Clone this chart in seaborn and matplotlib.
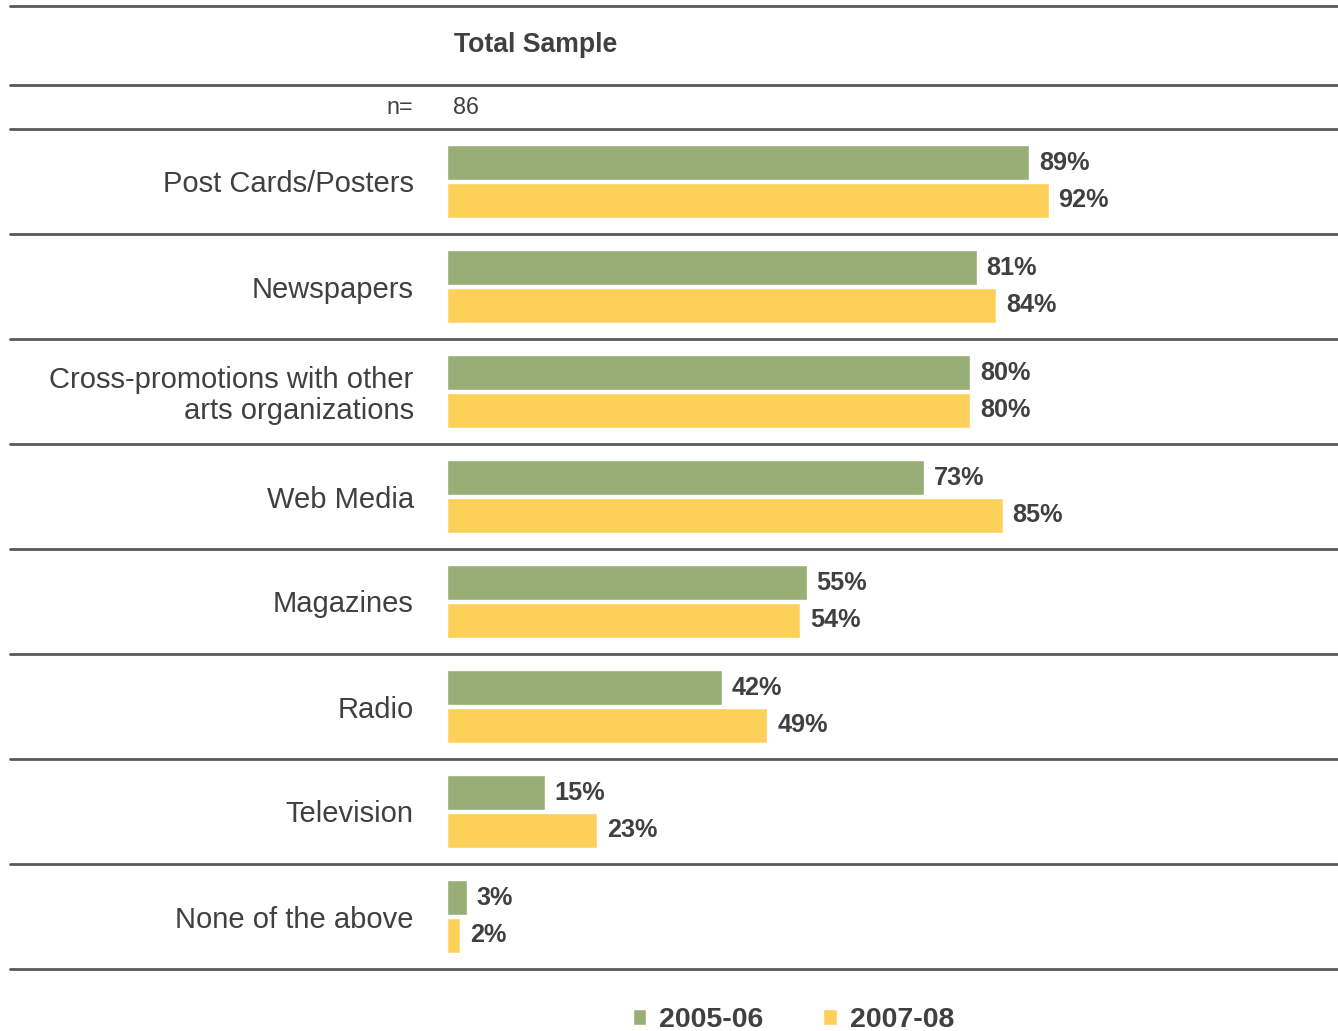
import numpy as np
import pandas as pd
import matplotlib
matplotlib.use("Agg")
import matplotlib.pyplot as plt
import seaborn as sns

# Survey results: share of organisations using each promotion channel
categories = [
    "Post Cards/Posters",
    "Newspapers",
    "Cross-promotions with other\narts organizations",
    "Web Media",
    "Magazines",
    "Radio",
    "Television",
    "None of the above",
]
periods = ["2005-06", "2007-08"]
values_2005_06 = [89, 81, 80, 73, 55, 42, 15, 3]
values_2007_08 = [92, 84, 80, 85, 54, 49, 23, 2]
header_title = "Total Sample"
sample_label = "n="
sample_size = "86"

colors = {"2005-06": "#97AF75", "2007-08": "#FDD05A"}
text_color = "#404040"
rule_color = "#595959"

df = pd.DataFrame({
    "category": categories * 2,
    "period": [periods[0]] * len(categories) + [periods[1]] * len(categories),
    "value": values_2005_06 + values_2007_08,
})

sns.set_style("white")
plt.rcParams["font.family"] = ["Liberation Sans", "DejaVu Sans"]

W, H = 1338, 1031
fig = plt.figure(figsize=(W / 100, H / 100), dpi=100)
left_px, right_px, top_px, bottom_px = 447, 1338, 129, 969
ax = fig.add_axes([left_px / W, 1 - bottom_px / H,
                   (right_px - left_px) / W, (bottom_px - top_px) / H])

sns.barplot(data=df, y="category", x="value", hue="period", order=categories,
            hue_order=periods, palette=colors, orient="h", width=0.72, gap=0.08,
            saturation=1, ax=ax, errorbar=None)

px_per_pct = 6.54
ax.set_xlim(0, (right_px - left_px) / px_per_pct)
ax.set_ylim(len(categories) - 0.5, -0.5)
ax.set_xlabel("")
ax.set_ylabel("")
ax.set_xticks([])
for s in ax.spines.values():
    s.set_visible(False)

ax.tick_params(axis="y", length=0, pad=24, labelsize=21, labelcolor=text_color)
for lbl in ax.get_yticklabels():
    lbl.set_linespacing(1.12)

for cont in ax.containers:
    ax.bar_label(cont, fmt="{:.0f}%", padding=7, fontsize=18.2,
                 fontweight="bold", color=text_color)

# Horizontal rules separating header and category rows
row_h = 105.0
xmin_rule = (10 - left_px) / (right_px - left_px)
rule_rows = list(np.arange(-0.5, len(categories) + 0.5, 1.0))
rule_rows += [-0.5 - (top_px - 85) / row_h, -0.5 - (top_px - 6) / row_h]
for yv in rule_rows:
    ax.axhline(yv, xmin=xmin_rule, xmax=1, color=rule_color, lw=2.0,
               clip_on=False, zorder=0)

# Header rows
hdr_y = -0.5 - (top_px - 45) / row_h
n_y = -0.5 - (top_px - 107) / row_h
ax.text(7 / px_per_pct, hdr_y, header_title, ha="left", va="center",
        fontsize=19.2, fontweight="bold", color=text_color, clip_on=False)
ax.text(-34 / px_per_pct, n_y, sample_label, ha="right", va="center",
        fontsize=16.8, color=text_color, clip_on=False)
ax.text(6 / px_per_pct, n_y, sample_size, ha="left", va="center",
        fontsize=16.8, color=text_color, clip_on=False)

sns.move_legend(ax, "center",
                bbox_to_anchor=((793.5 - left_px) / (right_px - left_px),
                                -(1020 - bottom_px) / (bottom_px - top_px)),
                ncol=2, frameon=False, title=None,
                prop={"size": 20.5, "weight": "bold"}, labelcolor=text_color,
                handlelength=0.47, handleheight=0.47, handletextpad=0.45,
                columnspacing=2.1, borderpad=0)

fig.savefig("out.png", dpi=100)
